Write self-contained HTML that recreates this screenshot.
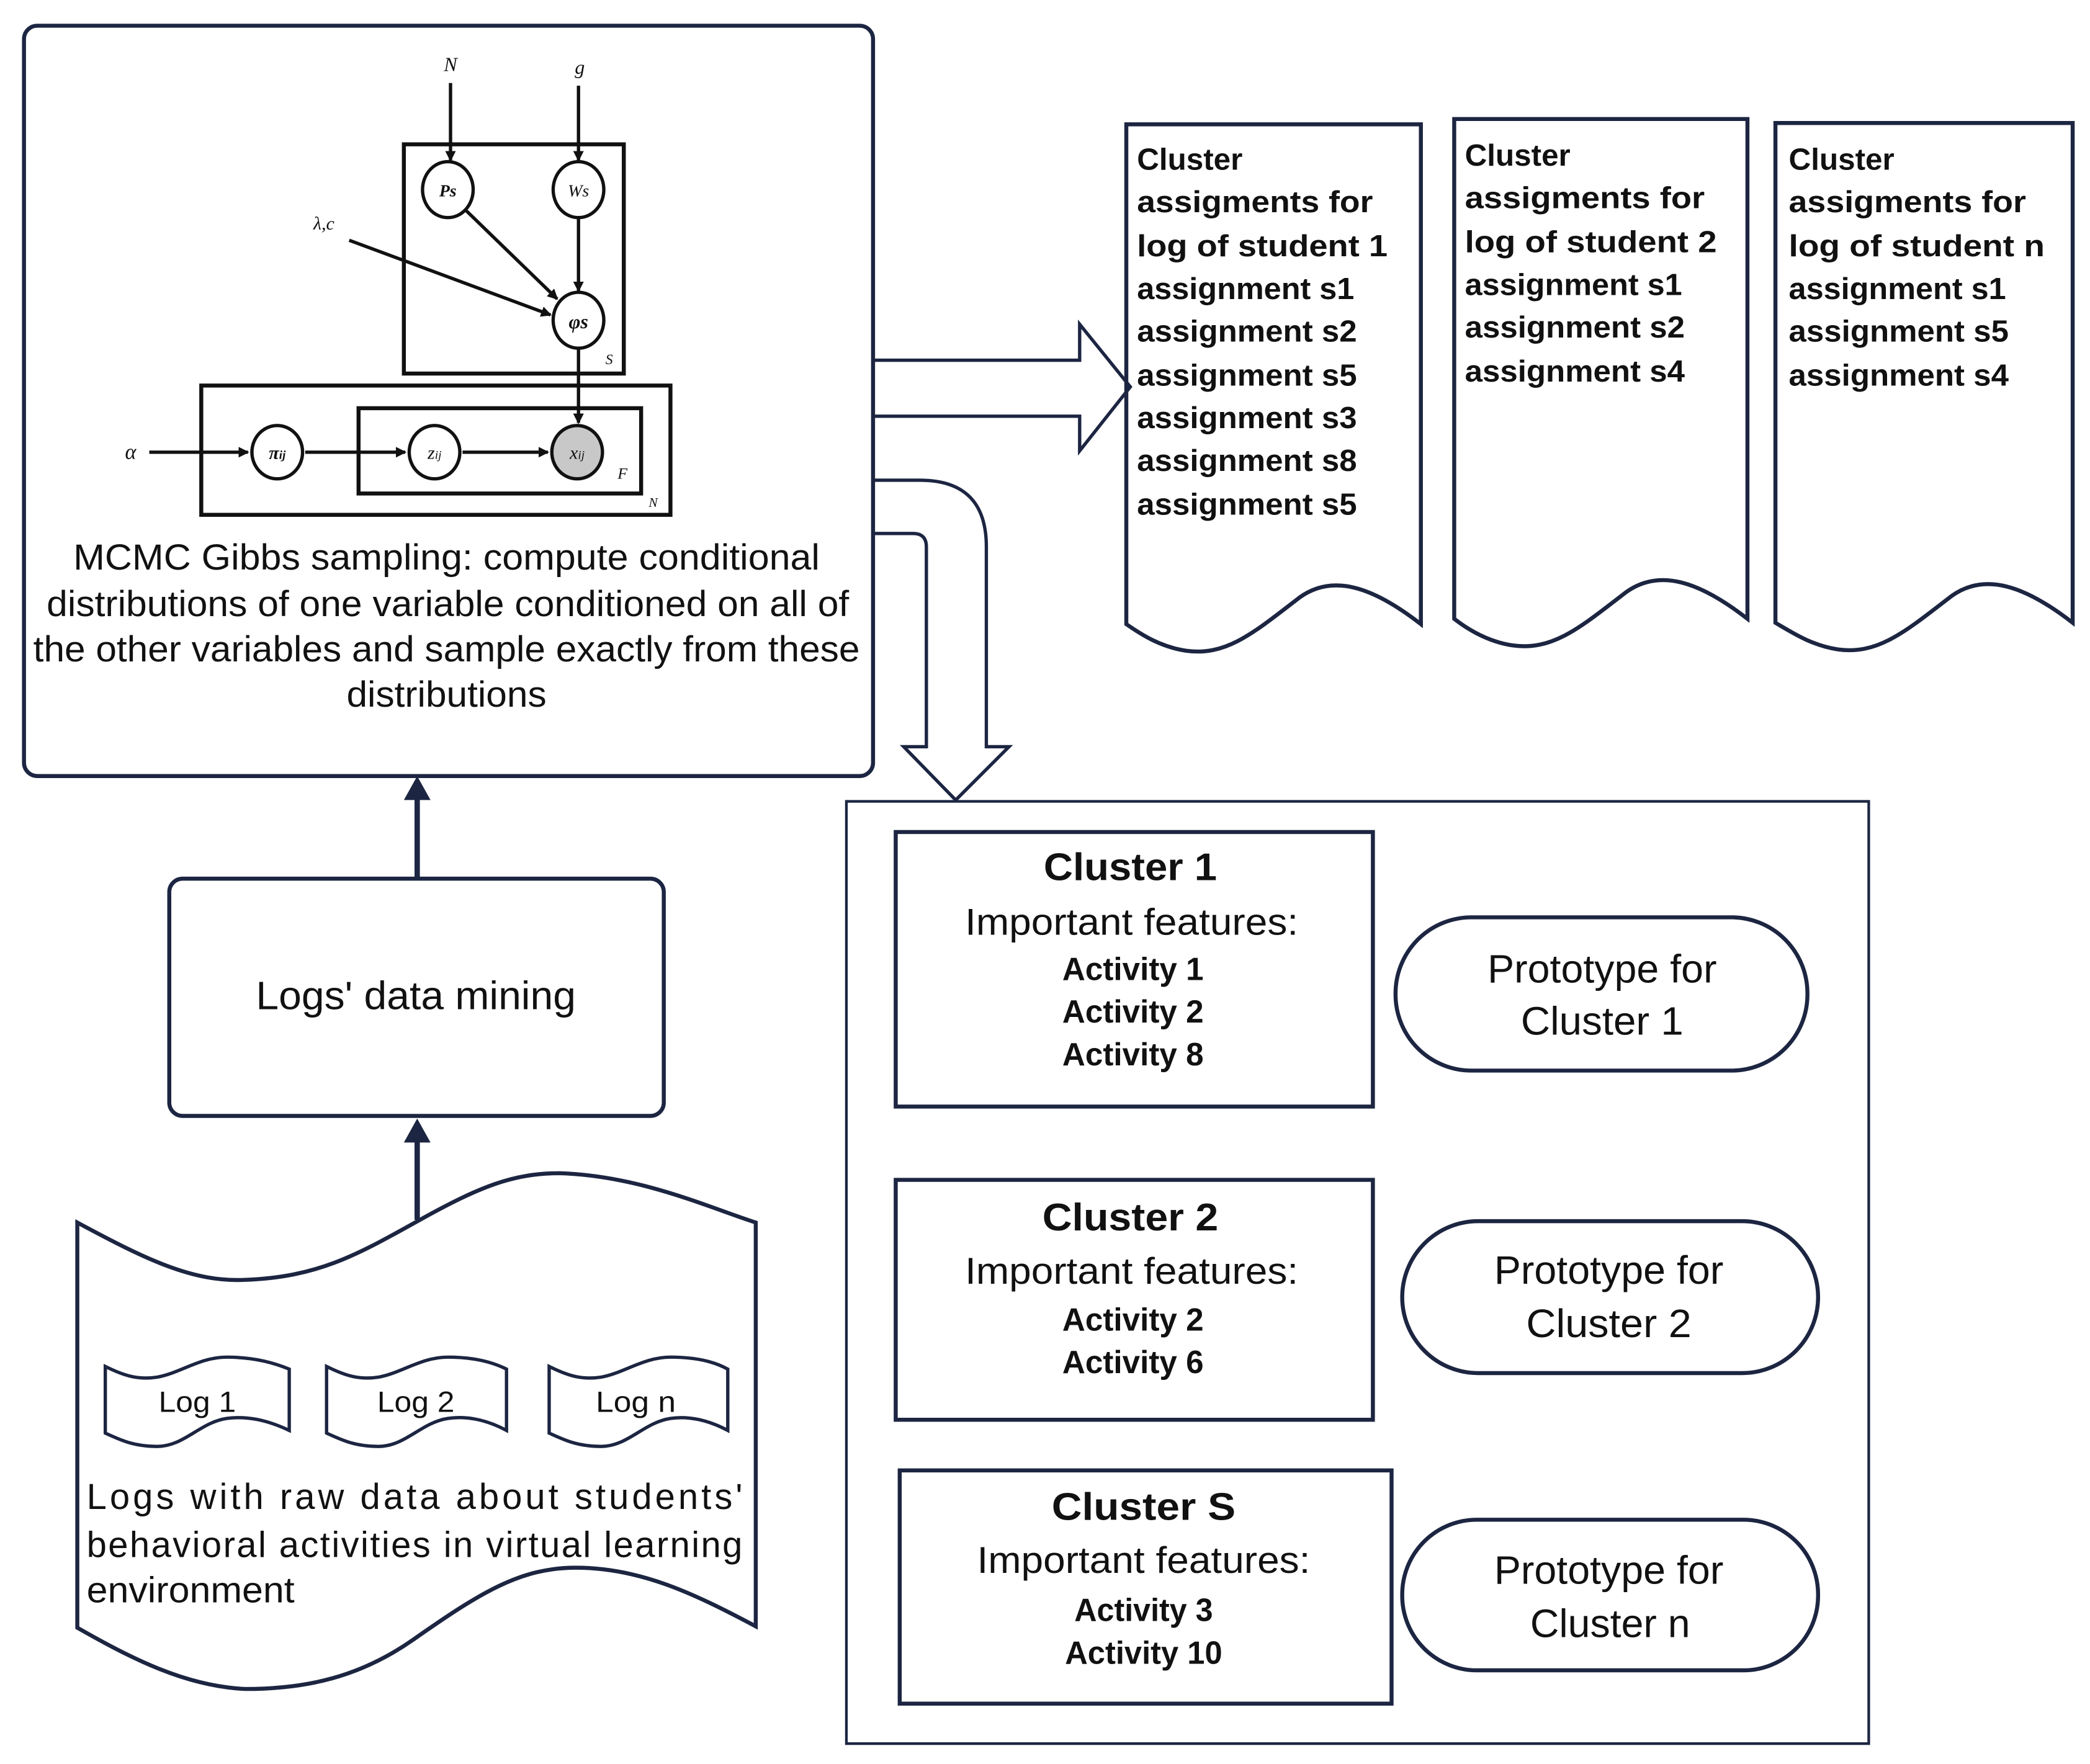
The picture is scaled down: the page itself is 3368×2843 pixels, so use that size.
<!DOCTYPE html>
<html><head><meta charset="utf-8"><style>
html,body{margin:0;padding:0;background:#fff;}
svg{display:block;}
text{font-family:"Liberation Sans",Arial,sans-serif;fill:#111;}
</style></head><body>
<svg width="3368" height="2843" viewBox="0 0 1568 1323" xmlns="http://www.w3.org/2000/svg">
<defs>
<marker id="ah" markerWidth="8" markerHeight="8" refX="7" refY="4" orient="auto" markerUnits="userSpaceOnUse"><path d="M0,0 L8,4 L0,8 z" fill="#111"/></marker>
</defs>
<rect width="1568" height="1323" fill="#fff"/>
<g stroke="#1c2541" fill="none" stroke-width="3">
<!-- top-left box -->
<rect x="18" y="19" width="637" height="563" rx="10"/>
<!-- logs data mining -->
<rect x="127" y="659" width="371" height="178" rx="10"/>
<!-- right big box -->
<rect x="635" y="601" width="767" height="707" stroke-width="2"/>
<rect x="672" y="624" width="358" height="206"/>
<rect x="672" y="885" width="358" height="180"/>
<rect x="675" y="1103" width="369" height="175"/>
<rect x="1047" y="688" width="309" height="115" rx="57"/>
<rect x="1052" y="916" width="312" height="114" rx="57"/>
<rect x="1052" y="1140" width="312" height="113" rx="56"/>
<!-- cluster docs -->
<path d="M845,93 L1066,93 L1066,468 C1030,440 1000,430 975,448 C940,475 920,492 890,488 C870,485 855,475 845,468 Z"/>
<path d="M1091,89 L1311,89 L1311,464 C1275,436 1245,426 1220,444 C1185,471 1165,488 1135,484 C1115,481 1100,471 1091,464 Z"/>
<path d="M1332,92 L1555,92 L1555,467 C1519,439 1489,429 1464,447 C1429,474 1409,491 1379,487 C1359,484 1344,474 1332,467 Z"/>
<!-- bottom doc -->
<path d="M58,917 C110,945 145,962 184,960 C240,958 270,940 315,915 C360,890 385,880 420,880 C480,882 530,905 567,917 L567,1220 C520,1195 480,1176 432,1176 C390,1176 360,1195 310,1230 C270,1258 230,1267 184,1267 C140,1265 100,1245 58,1221 Z"/>
<!-- logs -->
<path d="M79,1025 C95,1033 105,1035 118,1033 C135,1030 150,1018 170,1018 C190,1018 205,1022 217,1027 L217,1073 C200,1065 185,1062 170,1064 C150,1067 138,1085 118,1085 C100,1085 90,1080 79,1075 Z" stroke-width="2.5"/>
<path d="M245,1025 C261,1033 271,1035 284,1033 C301,1030 316,1018 336,1018 C356,1018 370,1022 380,1027 L380,1073 C365,1065 350,1062 336,1064 C316,1067 304,1085 284,1085 C266,1085 256,1080 245,1075 Z" stroke-width="2.5"/>
<path d="M412,1025 C428,1033 438,1035 451,1033 C468,1030 483,1018 503,1018 C523,1018 537,1022 546,1027 L546,1073 C531,1065 516,1062 503,1064 C483,1067 471,1085 451,1085 C433,1085 423,1080 412,1075 Z" stroke-width="2.5"/>
<!-- hollow arrows -->
<path d="M655,270 L810,270 L810,243 L848,290 L810,338 L810,312 L655,312" stroke-width="2.5"/>
<path d="M655,360 L690,360 Q740,360 740,410 L740,560 L757,560 L717,600 L678,560 L695,560 L695,410 Q695,400 685,400 L655,400" stroke-width="2.5"/>
<!-- up arrows -->
<line x1="313" y1="659" x2="313" y2="598" stroke-width="4"/>
<line x1="313" y1="915" x2="313" y2="855" stroke-width="4"/>
</g>
<path d="M303,600 L313,582 L323,600 Z" fill="#1c2541"/>
<path d="M303,857 L313,839 L323,857 Z" fill="#1c2541"/>

<!-- graphical model -->
<g stroke="#111" stroke-width="3" fill="none">
<rect x="303" y="108" width="165" height="172"/>
<rect x="151" y="289" width="352" height="97"/>
<rect x="269" y="306" width="212" height="64"/>
</g>
<g stroke="#111" stroke-width="2.5" fill="none" marker-end="url(#ah)">
<line x1="338" y1="62" x2="338" y2="120"/>
<line x1="434" y1="64" x2="434" y2="120"/>
<line x1="434" y1="163" x2="434" y2="218"/>
<line x1="350" y1="158" x2="418" y2="224"/>
<line x1="262" y1="180" x2="413" y2="236"/>
<line x1="434" y1="261" x2="434" y2="317"/>
<line x1="112" y1="339" x2="186" y2="339"/>
<line x1="229" y1="339" x2="304" y2="339"/>
<line x1="347" y1="339" x2="411" y2="339"/>
</g>
<g stroke="#111" stroke-width="2.5">
<ellipse cx="336" cy="142" rx="19" ry="21" fill="#fff"/>
<ellipse cx="434" cy="142" rx="19" ry="21" fill="#fff"/>
<ellipse cx="434" cy="240" rx="19" ry="21" fill="#fff"/>
<ellipse cx="208" cy="339" rx="19" ry="20" fill="#fff"/>
<ellipse cx="326" cy="339" rx="19" ry="20" fill="#fff"/>
<ellipse cx="433" cy="339" rx="19" ry="20" fill="#c8c8c8"/>
</g>
<g font-family="Liberation Serif" font-style="italic" text-anchor="middle">
<text x="338" y="53" font-size="15" style="font-family:'Liberation Serif',serif">N</text>
<text x="435" y="55" font-size="15" style="font-family:'Liberation Serif',serif">g</text>
<text x="336" y="147" font-size="13" font-weight="bold" style="font-family:'Liberation Serif',serif">Ps</text>
<text x="434" y="147" font-size="13" style="font-family:'Liberation Serif',serif">Ws</text>
<text x="434" y="246" font-size="15" font-weight="bold" style="font-family:'Liberation Serif',serif">φs</text>
<text x="208" y="344" font-size="14" font-weight="bold" style="font-family:'Liberation Serif',serif">π<tspan font-size="9">ij</tspan></text>
<text x="326" y="344" font-size="14" style="font-family:'Liberation Serif',serif">z<tspan font-size="9">ij</tspan></text>
<text x="433" y="344" font-size="14" style="font-family:'Liberation Serif',serif">x<tspan font-size="9">ij</tspan></text>
<text x="243" y="172" font-size="14" style="font-family:'Liberation Serif',serif">λ,c</text>
<text x="98" y="344" font-size="16" style="font-family:'Liberation Serif',serif">α</text>
<text x="457" y="273" font-size="11" style="font-family:'Liberation Serif',serif">S</text>
<text x="467" y="359" font-size="12" style="font-family:'Liberation Serif',serif">F</text>
<text x="490" y="380" font-size="10" style="font-family:'Liberation Serif',serif">N</text>
</g>

<!-- MCMC text -->
<g font-size="27" text-anchor="middle">
<text x="335" y="427" textLength="560" lengthAdjust="spacingAndGlyphs">MCMC Gibbs sampling: compute conditional</text>
<text x="336" y="462" textLength="602" lengthAdjust="spacingAndGlyphs">distributions of one variable conditioned on all of</text>
<text x="335" y="496" textLength="620" lengthAdjust="spacingAndGlyphs">the other variables and sample exactly from these</text>
<text x="335" y="530" textLength="150" lengthAdjust="spacingAndGlyphs">distributions</text>
</g>
<text x="312" y="757" font-size="30" text-anchor="middle" textLength="240" lengthAdjust="spacingAndGlyphs">Logs' data mining</text>

<!-- cluster docs text -->
<g font-size="23" font-weight="bold">
<text x="853" y="127">Cluster</text>
<text x="853" y="159" textLength="177" lengthAdjust="spacingAndGlyphs">assigments for</text>
<text x="853" y="192" textLength="188" lengthAdjust="spacingAndGlyphs">log of student 1</text>
<text x="853" y="224" textLength="163" lengthAdjust="spacingAndGlyphs">assignment s1</text>
<text x="853" y="256" textLength="165" lengthAdjust="spacingAndGlyphs">assignment s2</text>
<text x="853" y="289" textLength="165" lengthAdjust="spacingAndGlyphs">assignment s5</text>
<text x="853" y="321" textLength="165" lengthAdjust="spacingAndGlyphs">assignment s3</text>
<text x="853" y="353" textLength="165" lengthAdjust="spacingAndGlyphs">assignment s8</text>
<text x="853" y="386" textLength="165" lengthAdjust="spacingAndGlyphs">assignment s5</text>

<text x="1099" y="124">Cluster</text>
<text x="1099" y="156" textLength="180" lengthAdjust="spacingAndGlyphs">assigments for</text>
<text x="1099" y="189" textLength="189" lengthAdjust="spacingAndGlyphs">log of student 2</text>
<text x="1099" y="221" textLength="163" lengthAdjust="spacingAndGlyphs">assignment s1</text>
<text x="1099" y="253" textLength="165" lengthAdjust="spacingAndGlyphs">assignment s2</text>
<text x="1099" y="286" textLength="165" lengthAdjust="spacingAndGlyphs">assignment s4</text>

<text x="1342" y="127">Cluster</text>
<text x="1342" y="159" textLength="178" lengthAdjust="spacingAndGlyphs">assigments for</text>
<text x="1342" y="192" textLength="192" lengthAdjust="spacingAndGlyphs">log of student n</text>
<text x="1342" y="224" textLength="163" lengthAdjust="spacingAndGlyphs">assignment s1</text>
<text x="1342" y="256" textLength="165" lengthAdjust="spacingAndGlyphs">assignment s5</text>
<text x="1342" y="289" textLength="165" lengthAdjust="spacingAndGlyphs">assignment s4</text>
</g>

<!-- clusters -->
<g text-anchor="middle">
<text x="848" y="660" font-size="29" font-weight="bold" textLength="130" lengthAdjust="spacingAndGlyphs">Cluster 1</text>
<text x="849" y="701" font-size="28" textLength="250" lengthAdjust="spacingAndGlyphs">Important features:</text>
<text x="850" y="735" font-size="24" font-weight="bold" textLength="106" lengthAdjust="spacingAndGlyphs">Activity 1</text>
<text x="850" y="767" font-size="24" font-weight="bold" textLength="106" lengthAdjust="spacingAndGlyphs">Activity 2</text>
<text x="850" y="799" font-size="24" font-weight="bold" textLength="106" lengthAdjust="spacingAndGlyphs">Activity 8</text>

<text x="848" y="923" font-size="29" font-weight="bold" textLength="132" lengthAdjust="spacingAndGlyphs">Cluster 2</text>
<text x="849" y="963" font-size="28" textLength="250" lengthAdjust="spacingAndGlyphs">Important features:</text>
<text x="850" y="998" font-size="24" font-weight="bold" textLength="106" lengthAdjust="spacingAndGlyphs">Activity 2</text>
<text x="850" y="1030" font-size="24" font-weight="bold" textLength="106" lengthAdjust="spacingAndGlyphs">Activity 6</text>

<text x="858" y="1140" font-size="29" font-weight="bold" textLength="138" lengthAdjust="spacingAndGlyphs">Cluster S</text>
<text x="858" y="1180" font-size="28" textLength="250" lengthAdjust="spacingAndGlyphs">Important features:</text>
<text x="858" y="1216" font-size="24" font-weight="bold" textLength="104" lengthAdjust="spacingAndGlyphs">Activity 3</text>
<text x="858" y="1248" font-size="24" font-weight="bold" textLength="118" lengthAdjust="spacingAndGlyphs">Activity 10</text>

<text x="1202" y="737" font-size="30" textLength="172" lengthAdjust="spacingAndGlyphs">Prototype for</text>
<text x="1202" y="776" font-size="30" textLength="122" lengthAdjust="spacingAndGlyphs">Cluster 1</text>
<text x="1207" y="963" font-size="30" textLength="172" lengthAdjust="spacingAndGlyphs">Prototype for</text>
<text x="1207" y="1003" font-size="30" textLength="124" lengthAdjust="spacingAndGlyphs">Cluster 2</text>
<text x="1207" y="1188" font-size="30" textLength="172" lengthAdjust="spacingAndGlyphs">Prototype for</text>
<text x="1208" y="1228" font-size="30" textLength="120" lengthAdjust="spacingAndGlyphs">Cluster n</text>

<text x="148" y="1059" font-size="22" textLength="58" lengthAdjust="spacingAndGlyphs">Log 1</text>
<text x="312" y="1059" font-size="22" textLength="58" lengthAdjust="spacingAndGlyphs">Log 2</text>
<text x="477" y="1059" font-size="22" textLength="60" lengthAdjust="spacingAndGlyphs">Log n</text>
</g>
<g font-size="27">
<text x="65" y="1132" textLength="492" lengthAdjust="spacing">Logs with raw data about students'</text>
<text x="65" y="1168" textLength="492" lengthAdjust="spacing">behavioral activities in virtual learning</text>
<text x="65" y="1202" textLength="156" lengthAdjust="spacingAndGlyphs">environment</text>
</g>
</svg>
</body></html>
